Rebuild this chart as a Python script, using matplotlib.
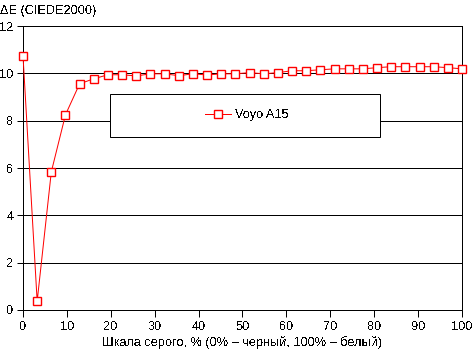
import numpy as np
import matplotlib
matplotlib.use("Agg")
import matplotlib.pyplot as plt
from matplotlib.patches import Rectangle

plt.rcParams['font.family'] = ['Liberation Sans', 'DejaVu Sans']
plt.rcParams['font.size'] = 9.2
plt.rcParams['text.antialiased'] = False

# Grey levels, % (32 steps from black to white)
gray_pct = np.arange(32) * 100 / 31
# Colour error for each step
delta_e = [10.74, 0.37, 5.84, 8.25, 9.56, 9.77, 9.94, 9.94, 9.89, 9.98,
           9.98, 9.90, 9.98, 9.93, 9.98, 9.98, 10.03, 9.98, 10.03, 10.11,
           10.11, 10.15, 10.19, 10.19, 10.19, 10.24, 10.28, 10.28, 10.28,
           10.28, 10.24, 10.19]
series_name = "Voyo A15"

x_ticks = list(range(0, 101, 10))
y_ticks = list(range(0, 13, 2))

LW = 0.72  # one pixel at 100 dpi

fig = plt.figure(figsize=(4.72, 3.52), dpi=100)
ax = fig.add_axes([23 / 472, 42 / 352, 439 / 472, 284 / 352])

# horizontal grid (black, the one at 12 is the top border)
for y in y_ticks[1:]:
    ax.axhline(y, color='black', lw=LW, zorder=1, antialiased=False)

line, = ax.plot(gray_pct, delta_e, color='#ff0000', lw=LW,
                marker='s', markersize=5.5, markerfacecolor='white',
                markeredgecolor='#ff0000', markeredgewidth=LW * 1.4,
                clip_on=False, zorder=4, label=series_name)

ax.set_xlim(0, 100)
ax.set_ylim(0, 12)
ax.set_xticks(x_ticks)
ax.set_yticks(y_ticks)
ax.tick_params(axis='x', direction='out', length=5, width=LW, pad=3)
ax.tick_params(axis='y', direction='out', length=4, width=LW, pad=3)
ax.spines['top'].set_visible(False)
for side in ['left', 'right', 'bottom']:
    ax.spines[side].set_linewidth(LW)
    ax.spines[side].set_color('black')

ax.set_xlabel("Шкала серого, % (0% – черный, 100% – белый)", labelpad=2)
fig.text(0.0, 1 - 11 / 352, "ΔE (CIEDE2000)", ha='left', va='center')

# legend box
box = Rectangle((0.198, 0.609), 0.615, 0.152, transform=ax.transAxes,
                facecolor='white', edgecolor='black', lw=LW, zorder=3)
ax.add_patch(box)
ax.legend(handles=[line], loc='center', bbox_to_anchor=(0.51, 0.685),
          frameon=False, handlelength=2, handletextpad=0.3)

fig.savefig("out.png", dpi=100)
